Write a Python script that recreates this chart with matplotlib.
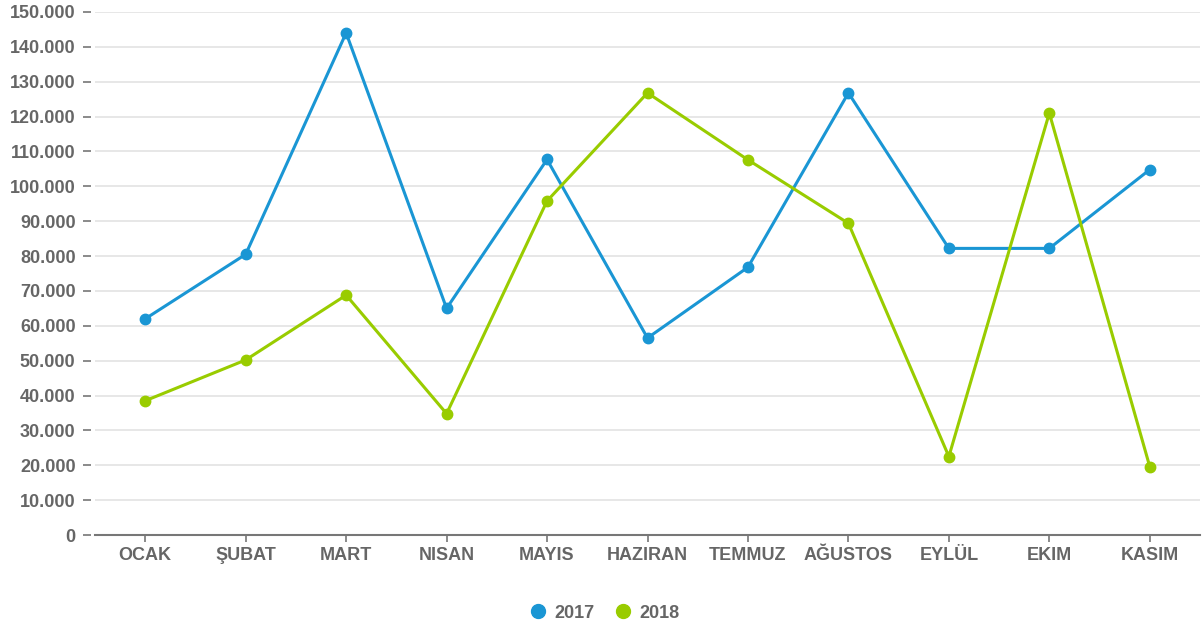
import matplotlib
matplotlib.use("Agg")
import matplotlib.pyplot as plt
from matplotlib.ticker import FuncFormatter, MultipleLocator

months = ["OCAK", "ŞUBAT", "MART", "NISAN", "MAYIS", "HAZIRAN",
          "TEMMUZ", "AĞUSTOS", "EYLÜL", "EKIM", "KASIM"]
sales_2017 = [62000, 80500, 144000, 65000, 107700, 56500,
              76800, 126800, 82200, 82200, 104800]
sales_2018 = [38500, 50200, 68800, 34800, 95800, 126800,
              107600, 89400, 22500, 121000, 19600]

blue = "#1a96d4"
green = "#99cc00"
grey = "#666666"

plt.rcParams["font.family"] = ["Liberation Sans", "DejaVu Sans"]

fig = plt.figure(figsize=(12.03, 6.31), dpi=100)
ax = fig.add_axes([95 / 1203, 96 / 631, 1105 / 1203, 523 / 631])

x = range(len(months))
ax.plot(x, sales_2017, color=blue, lw=2.2, marker="o", ms=7.5, label="2017", zorder=3)
ax.plot(x, sales_2018, color=green, lw=2.2, marker="o", ms=7.5, label="2018", zorder=3)

ax.set_xlim(-0.5, len(months) - 0.5)
ax.set_ylim(0, 150000)
ax.yaxis.set_major_locator(MultipleLocator(10000))
ax.yaxis.set_major_formatter(FuncFormatter(lambda v, p: f"{int(v):,}".replace(",", ".")))
ax.grid(axis="y", color="#e3e3e3", lw=1.2, zorder=0)
ax.set_axisbelow(True)

ax.set_xticks(list(x))
ax.set_xticklabels(months)

for s in ["top", "right", "left"]:
    ax.spines[s].set_visible(False)
ax.spines["left"].set_position(("outward", 3))
ax.spines["bottom"].set_color("#777777")
ax.spines["bottom"].set_linewidth(1.5)

ax.tick_params(axis="y", length=6, width=1.2, color="#777777", pad=5,
               labelsize=13, labelcolor=grey)
ax.tick_params(axis="x", length=5, width=1.2, color="#777777", pad=4,
               labelsize=13, labelcolor=grey)
for lbl in ax.get_xticklabels() + ax.get_yticklabels():
    lbl.set_fontweight("bold")

leg = fig.legend(loc="center", bbox_to_anchor=(605 / 1203, 1 - 613 / 631), ncol=2,
                 frameon=False, handlelength=0.8, handletextpad=0.5, columnspacing=1.2,
                 prop={"weight": "bold", "size": 13})
for h in leg.legend_handles:
    h.set_linestyle("none")
    h.set_markersize(10)
for t in leg.get_texts():
    t.set_color(grey)

fig.savefig("out.png", dpi=100)
